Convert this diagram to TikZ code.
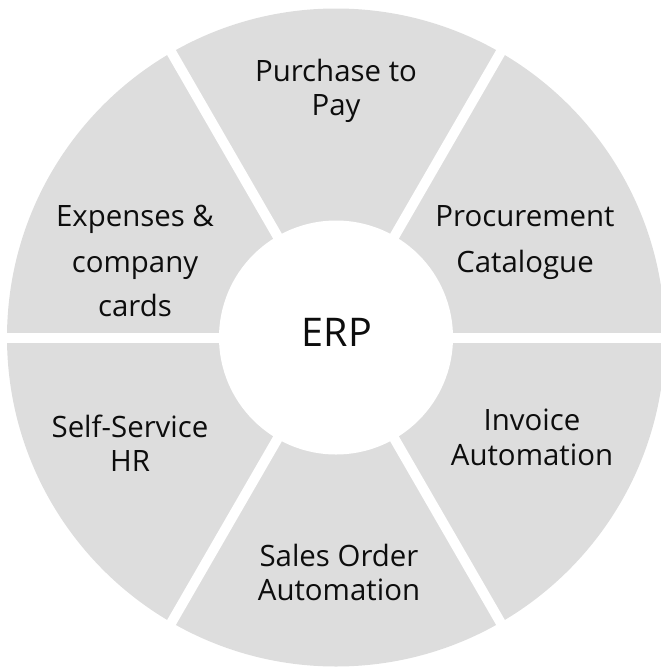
\documentclass[tikz,border=0pt]{standalone}
\usepackage{fontspec}
\setmainfont{Open Sans}
\usetikzlibrary{calc}
\definecolor{sector}{HTML}{DDDDDD}
\definecolor{txt}{HTML}{0D0D0D}
\tikzset{
  lbl/.style={anchor=base, inner sep=0pt, text=txt, font=\fontsize{29.4}{34}\selectfont},
  hub/.style={anchor=base, inner sep=0pt, text=txt, font=\fontsize{39.5}{46}\selectfont},
  gapline/.style={white, line width=10pt}
}
\begin{document}
\begin{tikzpicture}[x=1pt,y=-1pt]
\useasboundingbox (0,0) rectangle (661,667);
\coordinate (c) at (336,337.5);
% outer disc
\fill[sector] (c) circle[radius=329];
% white gaps between sectors
\foreach \a in {0,60,120}{
  \draw[gapline] ($(c)+(\a:340)$) -- ($(c)+(\a+180:340)$);
}
% central hub
\fill[white] (c) circle[radius=117];
% labels
\node[hub] (erp) at (337,346.7) {ERP};
\node[lbl] (p2p1) at (336,81.7) {Purchase to};
\node[lbl] (p2p2) at (336,115) {Pay};
\node[lbl] (pc1) at (525,226.7) {Procurement};
\node[lbl] (pc2) at (525,272.2) {Catalogue};
\node[lbl] (ex1) at (135,226.7) {Expenses \&};
\node[lbl] (ex2) at (135,272.2) {company};
\node[lbl] (ex3) at (135,316.9) {cards};
\node[lbl] (ia1) at (532,430.5) {Invoice};
\node[lbl] (ia2) at (532,465) {Automation};
\node[lbl] (hr1) at (130,437) {Self-Service};
\node[lbl] (hr2) at (130,471) {HR};
\node[lbl] (so1) at (339,566) {Sales Order};
\node[lbl] (so2) at (339,600) {Automation};
\end{tikzpicture}
\end{document}
